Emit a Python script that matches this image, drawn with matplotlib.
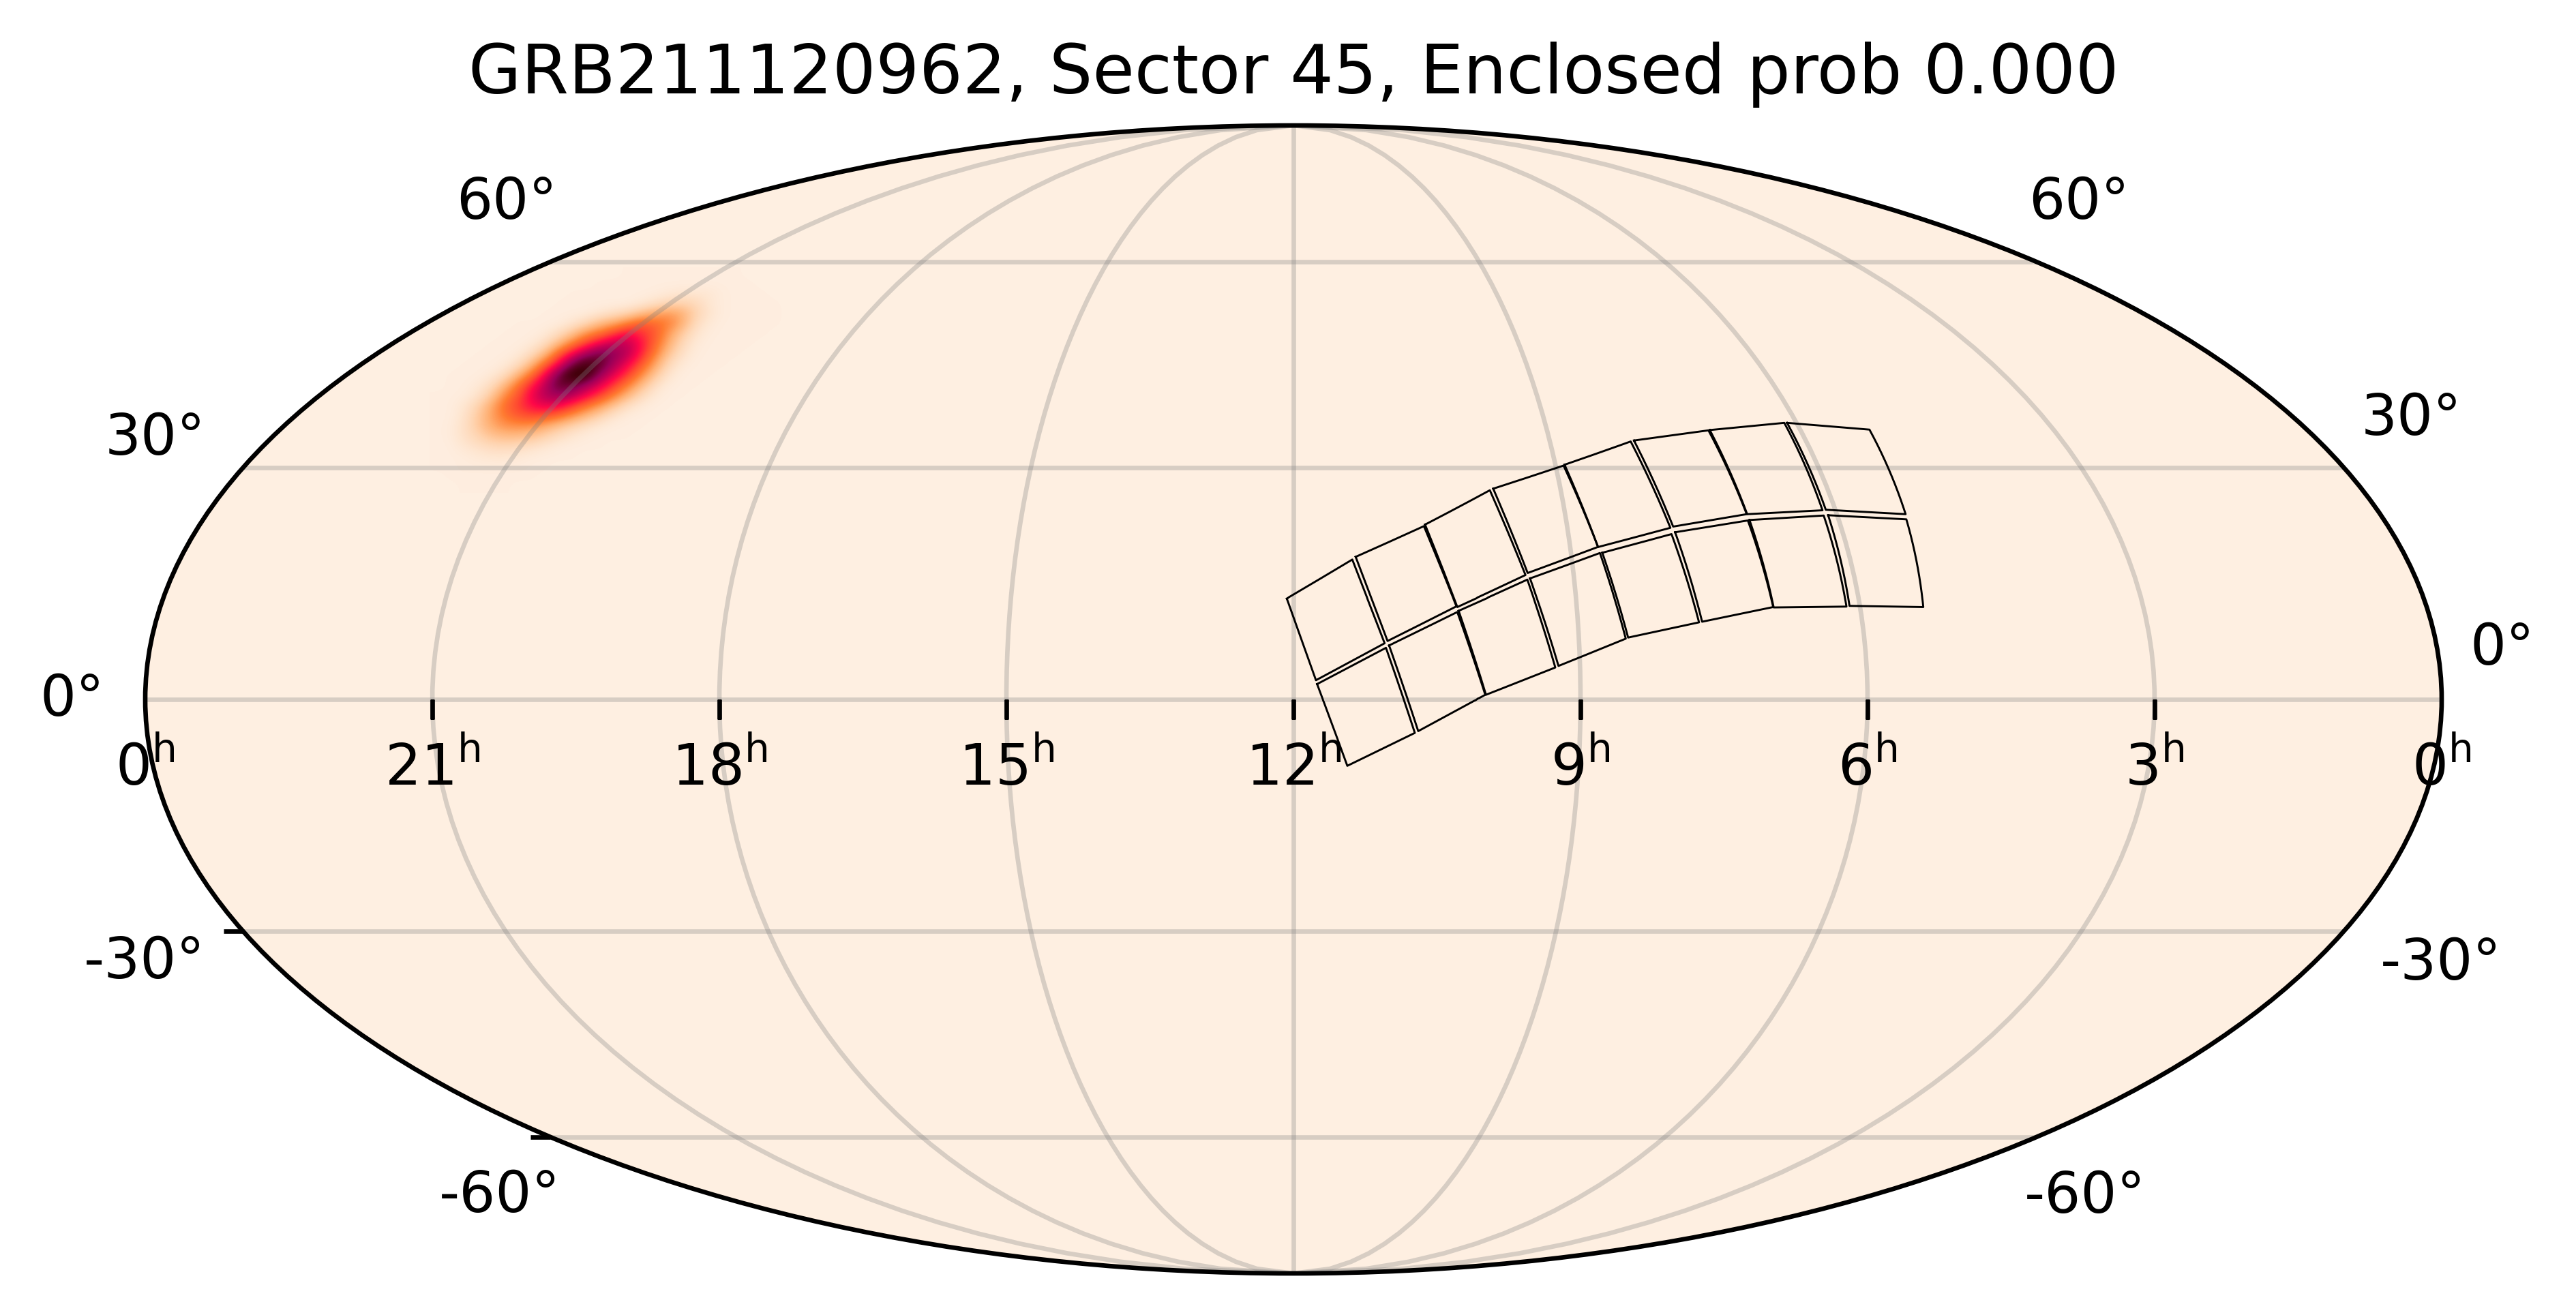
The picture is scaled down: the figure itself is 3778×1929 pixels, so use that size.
import numpy as np
import matplotlib
matplotlib.use("Agg")
import matplotlib.pyplot as plt
from matplotlib.colors import LinearSegmentedColormap
from matplotlib.markers import TICKDOWN, TICKLEFT

# ── data ──────────────────────────────────────────────────────────────────────

TITLE = "GRB211120962, Sector 45, Enclosed prob 0.000"

RA_HOURS  = [21, 18, 15, 12, 9, 6, 3]
EDGE_DECS = [-30, -60]

# ra, dec of the four corners of each CCD, in degrees
TILE_RA = [
    [181.05, 170.49, 165.64, 176.47],
    [169.93, 158.55, 154.11, 165.17],
    [158.34, 146.94, 142.74, 153.97],
    [146.33, 133.63, 130.47, 142.36],
    [133.43, 120.82, 118.08, 130.48],
    [120.19, 106.35, 104.93, 117.58],
    [106.09,  92.19,  92.16, 104.85],
    [ 91.69,  77.69,  78.61,  91.58],
    [176.29, 165.44, 160.94, 171.50],
    [164.94, 154.01, 149.93, 160.41],
    [153.79, 142.51, 138.89, 149.82],
    [142.06, 130.31, 127.61, 138.38],
    [129.92, 118.11, 115.84, 127.23],
    [117.46, 105.03, 103.80, 115.34],
    [104.74,  92.25,  92.15, 103.73],
    [ 91.50,  78.81,  79.96,  91.65],
]
TILE_DEC = [
    [12.88, 17.89,  7.15,  2.44],
    [18.24, 22.24, 11.89,  7.44],
    [22.44, 26.97, 15.89, 11.80],
    [27.18, 30.27, 19.53, 16.15],
    [30.38, 33.53, 22.02, 19.51],
    [33.66, 35.05, 23.81, 22.18],
    [35.09, 36.08, 24.32, 23.81],
    [36.08, 35.15, 23.81, 24.39],
    [ 1.95,  6.57, -4.26, -8.46],
    [ 6.87, 11.16,  0.59, -4.03],
    [11.31, 15.30,  4.06,  0.59],
    [15.45, 18.74,  7.74,  4.26],
    [18.77, 21.20,  9.83,  7.88],
    [21.44, 22.98, 11.80,  9.91],
    [23.04, 23.63, 11.86, 11.75],
    [23.67, 23.13, 11.80, 11.95],
]

# localisation probability, scaled to 0-1
PROB = np.array([
    [0,   0,   0,   0,   0,   0,   0,   0,   0,   0,   0,   0,   0,   0,   0,   .01, .02, .03, .03, .03, .01],
    [0,   0,   0,   0,   0,   0,   0,   0,   0,   0,   0,   0,   0,   0,   .02, .05, .08, .10, .08, .03, .01],
    [0,   0,   0,   0,   0,   0,   0,   0,   0,   0,   .01, .03, .06, .09, .15, .21, .24, .20, .10, .04, .01],
    [0,   0,   0,   0,   0,   0,   0,   0,   .01, .04, .09, .17, .22, .30, .38, .34, .30, .20, .07, .02, 0  ],
    [0,   0,   0,   0,   0,   0,   0,   .02, .07, .15, .27, .33, .43, .52, .45, .38, .24, .12, .04, .01, 0  ],
    [0,   0,   0,   0,   0,   0,   .02, .07, .18, .32, .43, .55, .62, .62, .50, .35, .20, .08, .02, 0,   0  ],
    [0,   0,   0,   0,   0,   .02, .07, .18, .38, .53, .68, .78, .72, .62, .47, .30, .14, .05, .01, 0,   0  ],
    [0,   0,   0,   0,   .02, .06, .18, .36, .52, .76, .92, .82, .65, .52, .38, .22, .08, .02, 0,   0,   0  ],
    [0,   0,   0,   .02, .06, .18, .33, .52, .75, .98, .92, .68, .55, .43, .28, .14, .04, 0,   0,   0,   0  ],
    [0,   0,   .02, .06, .17, .32, .47, .62, .82, .78, .65, .55, .43, .30, .17, .06, .01, 0,   0,   0,   0  ],
    [0,   .01, .04, .12, .27, .38, .53, .64, .68, .62, .52, .42, .30, .18, .08, .02, 0,   0,   0,   0,   0  ],
    [0,   .03, .09, .20, .33, .42, .50, .54, .52, .43, .33, .24, .14, .06, .02, 0,   0,   0,   0,   0,   0  ],
    [0,   .04, .12, .22, .31, .37, .40, .38, .33, .25, .17, .10, .04, .01, 0,   0,   0,   0,   0,   0,   0  ],
    [.01, .05, .12, .20, .25, .26, .25, .20, .14, .09, .05, .02, 0,   0,   0,   0,   0,   0,   0,   0,   0  ],
    [.01, .05, .09, .14, .16, .16, .14, .10, .06, .03, .01, 0,   0,   0,   0,   0,   0,   0,   0,   0,   0  ],
    [0,   .03, .05, .07, .08, .07, .05, .03, .01, 0,   0,   0,   0,   0,   0,   0,   0,   0,   0,   0,   0  ],
    [0,   .01, .02, .03, .03, .02, .01, 0,   0,   0,   0,   0,   0,   0,   0,   0,   0,   0,   0,   0,   0  ],
    [0,   .01, .01, .01, .01, .01, 0,   0,   0,   0,   0,   0,   0,   0,   0,   0,   0,   0,   0,   0,   0  ],
])

# the faint halo around it: level, and first/last column per row
HALO_LEVEL = 0.006
HALO_FIRST = [14, 12, 10, 9, 8, 6, 5, 4, 3, 2, 1, 1, 0, 0, 0, 0, 0, 0, 0, 0, 1, 2]
HALO_LAST  = [22, 23, 24, 25, 25, 25, 24, 23, 22, 21, 20, 19, 18, 17, 16, 15, 14, 12, 10, 8, 7, 5]

PROB_COLORS = ["#FEEFE1", "#FFD3AE", "#FFAE70", "#FF7A30", "#FF4A30", "#FF0848",
               "#C80055", "#980058", "#68002C", "#400008", "#200000"]

# label, centre x, baseline y (pixels of the saved image)
DEC_LABELS = [
    ("60°",   743,  321), ("30°",   228,  667), ("0°",    106, 1050),
    ("-30°",  212, 1435), ("-60°",  733, 1778),
    ("60°",  3049,  321), ("30°",  3537,  638), ("0°",   3670,  975),
    ("-30°", 3580, 1437), ("-60°", 3058, 1779),
]

# ── plot ──────────────────────────────────────────────────────────────────────

W, H = 3779, 1929
fig = plt.figure(figsize=(W / 600, H / 600), dpi=600)
ax = fig.add_axes([213 / W, (H - 1868) / H, 3368 / W, 1684 / H], projection="mollweide")
ax.set_autoscale_on(False)
ax.set_facecolor(PROB_COLORS[0])
ax.set_longitude_grid(45)
ax.set_latitude_grid(30)
ax.set_longitude_grid_ends(90)
ax.set_xticklabels([])
ax.set_yticklabels([])
ax.grid(True, color="gray", alpha=0.3, lw=0.8)

# PROB sits inside a larger table that also holds the halo
prob = np.zeros((22, 27))
prob[2:20, 1:22] = PROB
for row, (first, last) in enumerate(zip(HALO_FIRST, HALO_LAST)):
    prob[row, first:last + 1] = np.maximum(prob[row, first:last + 1], HALO_LEVEL)

cmap = LinearSegmentedColormap.from_list("prob", PROB_COLORS)
ax.imshow(prob, cmap=cmap, vmin=0, vmax=1, interpolation="bicubic",
          extent=(0.1238, 0.2841, 0.6802, 0.8762), transform=ax.transAxes,
          aspect="auto", zorder=1)

for ra, dec in zip(TILE_RA, TILE_DEC):
    lon = np.radians(180 - np.array(ra + ra[:1]))
    lat = np.radians(np.array(dec + dec[:1]))
    ax.plot(lon, lat, color="k", lw=0.35)

lon_ticks = np.radians(180 - np.array(RA_HOURS) * 15.0)
ax.plot(lon_ticks, np.zeros(len(lon_ticks)), ls="", marker=TICKDOWN, ms=3.5, mew=0.8, color="k")
ax.plot(np.full(len(EDGE_DECS), -np.pi), np.radians(EDGE_DECS), ls="", marker=TICKLEFT,
        ms=3.5, mew=0.8, color="k", clip_on=False)

for h in [0] + RA_HOURS + [24]:
    ax.annotate(f"{h % 24}$^{{\\mathrm{{h}}}}$", (np.radians(180 - h * 15.0), 0), xytext=(0, -15.1),
                textcoords="offset points", ha="center", va="baseline", fontsize=10,
                annotation_clip=False)

for label, x, y in DEC_LABELS:
    fig.text(x / W, 1 - y / H, label, ha="center", va="baseline", fontsize=10)

ax.set_title(TITLE, fontsize=12, pad=5.7)

fig.savefig("out.png", dpi=600)
